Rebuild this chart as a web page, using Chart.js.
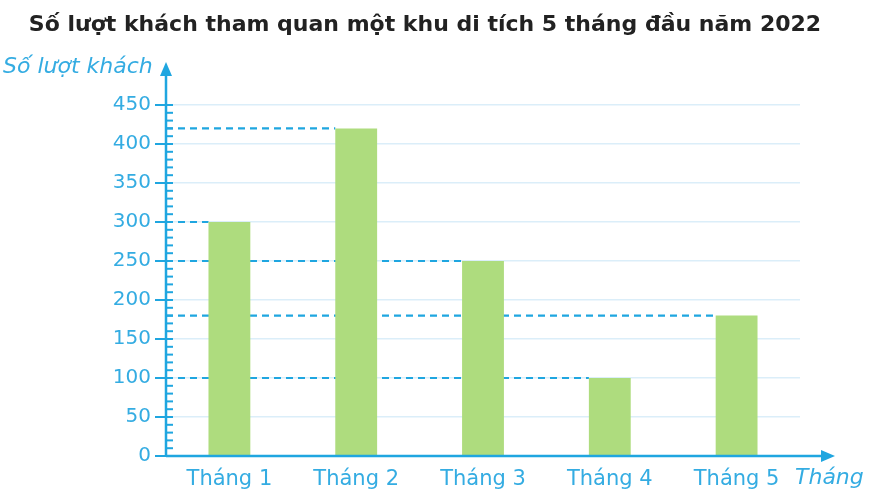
<!DOCTYPE html>
<html>
<head>
<meta charset="utf-8">
<script src="https://cdn.jsdelivr.net/npm/chart.js@4/dist/chart.umd.min.js"></script>
<style>
  html, body { margin: 0; padding: 0; background: #fff; }
  #wrap { width: 880px; height: 500px; position: relative; }
</style>
</head>
<body>
<div id="wrap"><canvas id="visitChart"></canvas></div>
<script>
const months = ['Tháng 1', 'Tháng 2', 'Tháng 3', 'Tháng 4', 'Tháng 5'];
const visitors = [300, 420, 250, 100, 180];
const yTicks = [0, 50, 100, 150, 200, 250, 300, 350, 400, 450];

const titleText = 'Số lượt khách tham quan một khu di tích 5 tháng đầu năm 2022';
const yAxisTitle = 'Số lượt khách';
const xAxisTitle = 'Tháng';

const BLUE = '#1fa6e0';
const LABEL_BLUE = '#34ace2';
const FONT = '"DejaVu Sans", sans-serif';

// axes with arrows, minor ticks, guide dashes, titles
const decorations = {
    id: 'decorations',
    beforeDatasetsDraw(chart) {
        const ctx = chart.ctx;
        const meta = chart.getDatasetMeta(0);
        const left = chart.chartArea.left;
        ctx.save();
        ctx.strokeStyle = BLUE;
        ctx.lineWidth = 2.2;
        ctx.setLineDash([7, 5]);
        meta.data.forEach(bar => {
            ctx.beginPath();
            ctx.moveTo(left, bar.y);
            ctx.lineTo(bar.x - bar.width / 2, bar.y);
            ctx.stroke();
        });
        ctx.restore();
    },
    afterDraw(chart) {
        const ctx = chart.ctx;
        const y = chart.scales.y;
        const area = chart.chartArea;
        const ax = area.left;
        const ay = area.bottom;
        ctx.save();
        ctx.strokeStyle = BLUE;
        ctx.fillStyle = BLUE;
        ctx.lineWidth = 2.5;

        // y axis
        ctx.beginPath();
        ctx.moveTo(ax, ay);
        ctx.lineTo(ax, 72);
        ctx.stroke();
        ctx.beginPath();
        ctx.moveTo(ax, 62);
        ctx.lineTo(ax - 6, 76);
        ctx.lineTo(ax + 6, 76);
        ctx.closePath();
        ctx.fill();

        // x axis
        ctx.beginPath();
        ctx.moveTo(ax, ay);
        ctx.lineTo(824, ay);
        ctx.stroke();
        ctx.beginPath();
        ctx.moveTo(835, ay);
        ctx.lineTo(821, ay - 6);
        ctx.lineTo(821, ay + 6);
        ctx.closePath();
        ctx.fill();

        // ticks
        ctx.lineWidth = 2;
        for (let v = 0; v <= 450; v += 10) {
            const py = y.getPixelForValue(v);
            ctx.beginPath();
            if (v % 50 === 0) {
                ctx.moveTo(ax - 11, py);
                ctx.lineTo(ax + 7, py);
            } else if (v > 0) {
                ctx.moveTo(ax, py);
                ctx.lineTo(ax + 7, py);
            }
            ctx.stroke();
        }

        // title
        ctx.fillStyle = '#222';
        ctx.font = 'bold 22px ' + FONT;
        ctx.textAlign = 'center';
        ctx.textBaseline = 'middle';
        ctx.fillText(titleText, 425, 25);

        // axis titles
        ctx.fillStyle = LABEL_BLUE;
        ctx.font = 'italic 22px ' + FONT;
        ctx.textAlign = 'left';
        ctx.fillText(yAxisTitle, 3, 67);
        ctx.fillText(xAxisTitle, 795, 478);
        ctx.restore();
    }
};

new Chart(document.getElementById('visitChart'), {
    type: 'bar',
    data: {
        labels: months,
        datasets: [{
            data: visitors,
            backgroundColor: '#aedc7e',
            borderWidth: 0,
            barPercentage: 0.33,
            categoryPercentage: 1,
        }],
    },
    options: {
        responsive: true,
        maintainAspectRatio: false,
        animation: false,
        layout: { padding: { top: 105, right: 80, left: 0, bottom: 0 } },
        plugins: {
            legend: { display: false },
            tooltip: { enabled: false },
        },
        scales: {
            x: {
                grid: { display: false, drawTicks: false },
                border: { display: false },
                ticks: { color: LABEL_BLUE, padding: 11, font: { size: 21, family: FONT } },
                afterFit: s => { s.height = 44; },
            },
            y: {
                min: 0,
                max: 450,
                afterBuildTicks: s => { s.ticks = yTicks.map(v => ({ value: v })); },
                grid: { color: '#dbeef9', lineWidth: 1.5, drawTicks: false },
                border: { display: false },
                ticks: { color: LABEL_BLUE, padding: 15, font: { size: 20, family: FONT } },
                afterFit: s => { s.width = 166; },
            },
        },
    },
    plugins: [decorations],
});
</script>
</body>
</html>
